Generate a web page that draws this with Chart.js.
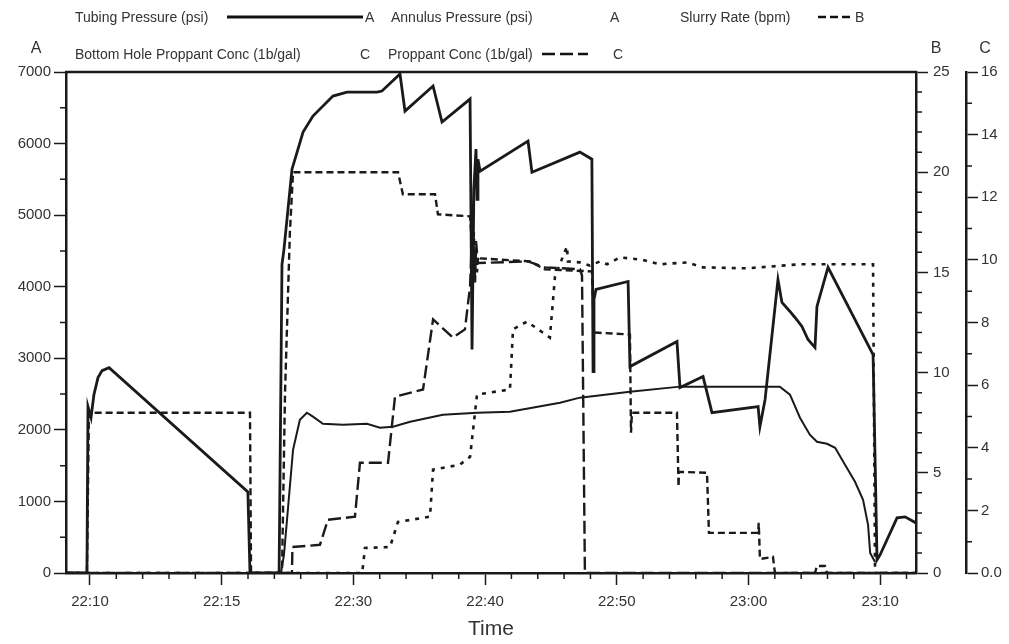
<!DOCTYPE html>
<html><head><meta charset="utf-8">
<script src="https://cdn.jsdelivr.net/npm/chart.js@4.4.1/dist/chart.umd.min.js"></script>
<style>
html,body{margin:0;padding:0;background:#fff;}
#wrap{position:relative;width:1009px;height:644px;font-family:"Liberation Sans",Arial,sans-serif;color:#333;overflow:hidden;}
#c{position:absolute;left:0;top:0;}
.t{position:absolute;white-space:nowrap;line-height:1;transform:translateY(-50%);font-size:14px;}
.ax{position:absolute;font-size:16px;line-height:1;transform:translate(-50%,-50%);}
svg.s{position:absolute;overflow:visible;}
</style></head><body>
<div id="wrap">
<canvas id="c" width="1009" height="644"></canvas>
<span class="t" style="left:75px;top:17px">Tubing Pressure (psi)</span>
<svg class="s" style="left:227px;top:13px" width="136" height="8"><line x1="0" y1="4" x2="136" y2="4" stroke="#111" stroke-width="3"/></svg>
<span class="t" style="left:365px;top:17px">A</span>
<span class="t" style="left:391px;top:17px">Annulus Pressure (psi)</span>
<span class="t" style="left:610px;top:17px">A</span>
<span class="t" style="left:680px;top:17px">Slurry Rate (bpm)</span>
<svg class="s" style="left:818px;top:13px" width="32" height="8"><line x1="0" y1="4" x2="32" y2="4" stroke="#111" stroke-width="2.5" stroke-dasharray="8 4"/></svg>
<span class="t" style="left:855px;top:17px">B</span>
<span class="t" style="left:75px;top:54px">Bottom Hole Proppant Conc (1b/gal)</span>
<span class="t" style="left:360px;top:54px">C</span>
<span class="t" style="left:388px;top:54px">Proppant Conc (1b/gal)</span>
<svg class="s" style="left:542px;top:50px" width="46" height="8"><line x1="0" y1="4" x2="46" y2="4" stroke="#111" stroke-width="2.5" stroke-dasharray="13 5"/></svg>
<span class="t" style="left:613px;top:54px">C</span>
<span class="ax" style="left:36px;top:48px">A</span>
<span class="ax" style="left:936px;top:48px">B</span>
<span class="ax" style="left:985px;top:48px">C</span>
</div>
<script>
// ---- data (time = minutes after 22:00 on the plotted time axis) ----
const xTickValues = [10,20,30,40,50,60,70];
const xTickLabels = ['22:10','22:15','22:30','22:40','22:50','23:00','23:10'];
const aTicks = [0,1000,2000,3000,4000,5000,6000,7000];
const bTicks = [0,5,10,15,20,25];
const cTicks = [0,2,4,6,8,10,12,14,16];

const tubingTime = [8.18,9.77,9.85,10.08,10.30,10.61,10.92,11.45,21.99,22.15,24.36,24.58,24.73,25.34,26.18,26.93,28.45,29.51,31.79,32.17,33.54,33.92,36.05,36.73,38.86,39.01,39.15,39.31,39.39,39.46,39.62,43.26,43.56,47.20,48.11,48.20,48.27,48.42,50.86,51.00,54.57,54.80,56.55,57.23,60.73,60.87,61.26,62.24,62.54,63.15,63.53,64.06,64.52,65.05,65.20,66.04,69.46,69.76,69.99,71.28,71.89,72.72];
const tubingPsi  = [0,0,2324,2170,2492,2730,2828,2870,1134,0,0,4312,4522,5642,6160,6384,6664,6720,6720,6734,6972,6454,6804,6300,6622,3122,5362,5922,5222,5782,5614,6034,5600,5880,5782,2814,3822,3962,4074,2884,3234,2590,2744,2240,2324,2044,2422,4100,3780,3654,3570,3444,3262,3150,3724,4270,3052,182,252,770,784,700];

const annulusTime = [8.18,24.50,24.73,25.42,25.94,26.47,26.93,27.69,29.21,31.03,32.02,33.01,34.31,36.80,39.39,41.89,45.69,47.20,51.00,54.80,59.35,62.38,63.15,63.91,64.66,65.20,65.96,66.58,67.33,68.09,68.70,69.08,69.24,69.61];
const annulusPsi  = [0,0,252,1722,2142,2240,2184,2086,2072,2086,2030,2044,2114,2212,2240,2254,2380,2450,2534,2604,2604,2604,2492,2170,1932,1834,1806,1750,1512,1274,1022,672,280,154];

const slurryTime = [8.18,9.77,9.92,22.15,22.23,24.58,24.81,25.18,25.42,33.39,33.76,36.20,36.42,38.86,39.08,39.15,39.24,39.31,39.39,39.46,39.62,43.41,44.54,48.11,48.27,51.00,51.08,51.15,54.57,54.69,54.72,56.85,57.00,60.73,60.78,60.87,61.86,62.01,65.05,65.20,65.81,65.96,72.72];
const slurryBpm  = [0,0,8,8,0,0,9,17,20,20,18.9,18.9,17.9,17.8,15.7,17.0,14.5,16.2,15.0,15.8,15.7,15.55,15.15,15.05,12.0,11.9,7.0,8.0,8.0,4.3,5.05,5.0,2.0,2.0,2.5,0.7,0.8,0,0,0.35,0.35,0,0];

const bhTime = [8.18,30.66,30.73,30.88,32.78,33.39,35.82,36.05,38.09,38.86,39.39,41.89,42.12,43.18,44.92,45.31,46.22,46.29,47.20,47.96,48.73,49.26,50.25,51.99,53.28,55.34,56.55,59.89,63.91,69.46,69.61,72.72];
const bhConc = [0,0,0.22,0.8,0.83,1.63,1.8,3.3,3.46,3.71,5.7,5.86,7.78,8.03,7.52,9.47,10.43,9.95,9.92,9.82,9.95,9.86,10.08,10.0,9.86,9.92,9.76,9.73,9.86,9.86,0,0];

const propTime = [8.18,25.34,25.37,27.46,28.07,30.12,30.50,32.63,33.16,35.29,36.05,37.56,38.47,38.86,39.01,39.15,39.24,39.31,39.46,43.26,44.54,47.20,47.36,47.58,72.72];
const propConc = [0,0,0.83,0.9,1.7,1.8,3.52,3.52,5.63,5.86,8.1,7.52,7.78,9.15,10.9,9.6,10.08,10.6,9.9,9.95,9.76,9.7,9.5,0,0];

// ---- axis config ----
const xMin = 8.18, xMax = 72.72;
const xMinor = [12,14,16,18,22,24,26,28,32,34,36,38,42,44,46,48,52,54,56,58,62,64,66,68,72];
const aMinor = [500,1500,2500,3500,4500,5500,6500];
const bMinor = [1,2,3,4,6,7,8,9,11,12,13,14,16,17,18,19,21,22,23,24];
const cMinor = [1,3,5,7,9,11,13,15];

const pts = (t, v) => t.map((x, i) => ({x: x, y: v[i]}));
const FONT = '"Liberation Sans", Arial, sans-serif';
const tickFont = {family: FONT, size: 15};
const LBL = '#333', INK = '#1a1a1a';
const fixed = vals => s => { s.ticks = vals.map(v => ({value: v})); };
const grid = {drawOnChartArea: false, drawTicks: true, tickLength: 12, tickColor: INK, tickWidth: 1.5};
const border = {display: true, color: INK, width: 2.5};

const framePlugin = {
  id: 'frame',
  afterDraw(chart) {
    const {ctx, chartArea: a, scales} = chart;
    ctx.save();
    ctx.strokeStyle = INK;
    ctx.lineWidth = 2.5;
    ctx.beginPath(); ctx.moveTo(a.left - 1, a.top); ctx.lineTo(a.right + 1, a.top); ctx.stroke();
    ctx.lineWidth = 1.5;
    const L = 6;
    ctx.beginPath();
    xMinor.forEach(v => { const p = scales.x.getPixelForValue(v); ctx.moveTo(p, a.bottom); ctx.lineTo(p, a.bottom + L); });
    aMinor.forEach(v => { const p = scales.yA.getPixelForValue(v); ctx.moveTo(a.left, p); ctx.lineTo(a.left - L, p); });
    bMinor.forEach(v => { const p = scales.yB.getPixelForValue(v); ctx.moveTo(scales.yB.left, p); ctx.lineTo(scales.yB.left + L, p); });
    cMinor.forEach(v => { const p = scales.yC.getPixelForValue(v); ctx.moveTo(scales.yC.left, p); ctx.lineTo(scales.yC.left + L, p); });
    ctx.stroke();
    ctx.restore();
  }
};

new Chart(document.getElementById('c'), {
  type: 'line',
  data: {
    datasets: [
      {label: 'Bottom Hole Proppant Conc (1b/gal)', data: pts(bhTime, bhConc), yAxisID: 'yC', borderColor: INK, borderWidth: 2.6, borderDash: [4, 6]},
      {label: 'Proppant Conc (1b/gal)', data: pts(propTime, propConc), yAxisID: 'yC', borderColor: INK, borderWidth: 2.4, borderDash: [13, 5]},
      {label: 'Slurry Rate (bpm)', data: pts(slurryTime, slurryBpm), yAxisID: 'yB', borderColor: INK, borderWidth: 2.4, borderDash: [7, 4]},
      {label: 'Annulus Pressure (psi)', data: pts(annulusTime, annulusPsi), yAxisID: 'yA', borderColor: INK, borderWidth: 2},
      {label: 'Tubing Pressure (psi)', data: pts(tubingTime, tubingPsi), yAxisID: 'yA', borderColor: INK, borderWidth: 2.8}
    ]
  },
  options: {
    responsive: false, animation: false, devicePixelRatio: 1,
    layout: {padding: {top: 72, left: 0, right: 0, bottom: 0}},
    plugins: {legend: {display: false}, tooltip: {enabled: false}},
    elements: {point: {radius: 0}, line: {tension: 0, fill: false, borderJoinStyle: 'miter'}},
    scales: {
      x: {
        type: 'linear', min: xMin, max: xMax,
        afterBuildTicks: fixed(xTickValues),
        afterFit: s => { s.height = 71; },
        ticks: {callback: (v, i) => xTickLabels[i], font: tickFont, color: LBL, padding: 8, autoSkip: false, maxRotation: 0},
        grid: grid, border: border,
        title: {display: true, text: 'Time', font: {family: FONT, size: 21}, color: LBL, padding: {top: 0, bottom: 2}}
      },
      yA: {
        position: 'left', min: 0, max: 7000,
        afterBuildTicks: fixed(aTicks),
        afterFit: s => { s.width = 66; },
        ticks: {font: tickFont, color: LBL, padding: 3, callback: v => String(v)},
        grid: grid, border: border
      },
      yB: {
        position: 'right', min: 0, max: 25,
        afterBuildTicks: fixed(bTicks),
        afterFit: s => { s.width = 50; },
        ticks: {font: tickFont, color: LBL, padding: 5, callback: v => String(v)},
        grid: grid, border: border
      },
      yC: {
        position: 'right', min: 0, max: 16,
        afterBuildTicks: fixed(cTicks),
        afterFit: s => { s.width = 43; },
        ticks: {font: tickFont, color: LBL, padding: 3, callback: v => v === 0 ? '0.0' : String(v)},
        grid: grid, border: border
      }
    }
  },
  plugins: [framePlugin]
});
</script>
</body></html>
